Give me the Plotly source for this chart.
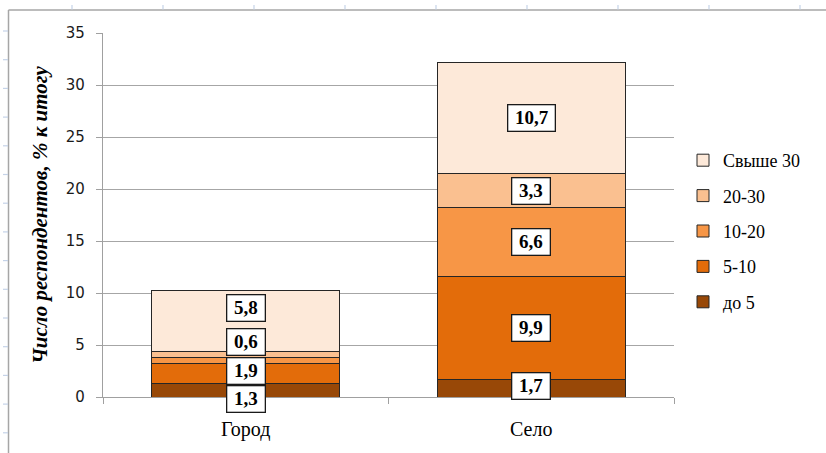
import plotly.graph_objects as go

# Survey data: share of respondents (% of total) by group and size band
categories = ["Город", "Село"]
series_names = ["до 5", "5-10", "10-20", "20-30", "Свыше 30"]
values_city = [1.3, 1.9, 0.6, 0.6, 5.8]
values_village = [1.7, 9.9, 6.6, 3.3, 10.7]
series_colors = ["#984807", "#E36C0A", "#F79646", "#FAC090", "#FDE9D9"]

# which value labels are drawn, and their vertical nudges (px) per category
city_label_shown = [True, True, False, True, True]
city_label_shift = [-9, 3, 0, 12, 13]
village_label_shown = [True, True, True, True, True]
village_label_shift = [2, 0, 0, 0, 0]

W, H = 826, 453
L, R, T, B = 103, 674, 33, 397   # plot area in pixels
SERIF = "Liberation Serif, Times New Roman, serif"


def px(x):
    return (x - L) / (R - L)


def py(y):
    return (B - y) / (B - T)


def fmt(v):
    return f"{v:.1f}".replace(".", ",")


fig = go.Figure()
n = len(series_names)
for i, name in enumerate(series_names):
    fig.add_trace(go.Bar(
        name=name,
        x=categories,
        y=[values_city[i], values_village[i]],
        marker=dict(color=series_colors[i], line=dict(color="#262626", width=1)),
        legendgroup=name,
        legendrank=n - i,          # widest band listed first
        hoverinfo="skip",
    ))

annotations = []
for cat, vals, shown, shifts in [
    (categories[0], values_city, city_label_shown, city_label_shift),
    (categories[1], values_village, village_label_shown, village_label_shift),
]:
    base = 0.0
    for v, s, sh in zip(vals, shown, shifts):
        if s:
            annotations.append(dict(
                x=cat, y=base + v / 2, xref="x", yref="y",
                text="<b>\u00a0" + fmt(v) + "\u00a0</b>", showarrow=False, yshift=sh,
                font=dict(family=SERIF, size=19, color="#000000"),
                bgcolor="#FFFFFF", bordercolor="#1a1a1a", borderwidth=1.3,
                borderpad=2,
            ))
        base += v

# page frame with ruler marks around the chart
shapes = [
    dict(type="line", xref="paper", yref="paper", x0=px(8.5), x1=px(W), y0=py(10), y1=py(10),
         line=dict(color="#A6A6A6", width=1.5), layer="above"),
    dict(type="line", xref="paper", yref="paper", x0=px(8.5), x1=px(8.5), y0=py(10), y1=py(H),
         line=dict(color="#A6A6A6", width=1.5), layer="above"),
]
for xm in range(72, W, 91):
    shapes.append(dict(type="line", xref="paper", yref="paper", x0=px(xm), x1=px(xm),
                       y0=py(5), y1=py(9.5), line=dict(color="#C5D3E8", width=1.2)))
for ym in [31 + 28.7 * k for k in range(15)]:
    shapes.append(dict(type="line", xref="paper", yref="paper", x0=px(3), x1=px(8),
                       y0=py(ym), y1=py(ym), line=dict(color="#C5D3E8", width=1.2)))

fig.update_layout(
    width=W, height=H,
    margin=dict(l=L, r=W - R, t=T, b=H - B, pad=0),
    font=dict(family=SERIF, color="#000000"),
    barmode="stack",
    bargap=0.34,
    plot_bgcolor="#FFFFFF",
    paper_bgcolor="#FFFFFF",
    showlegend=True,
    legend=dict(
        x=px(683), y=py(142), xanchor="left", yanchor="top",
        traceorder="grouped", tracegroupgap=9,
        font=dict(family=SERIF, size=18, color="#000000"),
        itemwidth=30, bgcolor="rgba(0,0,0,0)",
    ),
    annotations=annotations,
    shapes=shapes,
)

fig.update_xaxes(
    showline=True, linecolor="#A0A0A0", linewidth=1.3,
    ticks="outside", tickson="boundaries", ticklen=6, tickcolor="#A0A0A0",
    tickfont=dict(family=SERIF, size=20, color="#000000"),
    ticklabelstandoff=14,
    showgrid=False,
)
fig.update_yaxes(
    range=[0, 35], dtick=5,
    showline=True, linecolor="#A0A0A0", linewidth=1.3,
    ticks="outside", ticklen=6, tickcolor="#A0A0A0",
    gridcolor="#A6A6A6", gridwidth=1.3, zeroline=False,
    tickfont=dict(family="DejaVu Sans", size=15, color="#1a1a1a"),
    ticklabelstandoff=8,
    title=dict(
        text="<b><i>Число респондентов, % к итогу</i></b>",
        font=dict(family=SERIF, size=21, color="#000000"),
        standoff=12,
    ),
)

fig.write_html("out.html")
